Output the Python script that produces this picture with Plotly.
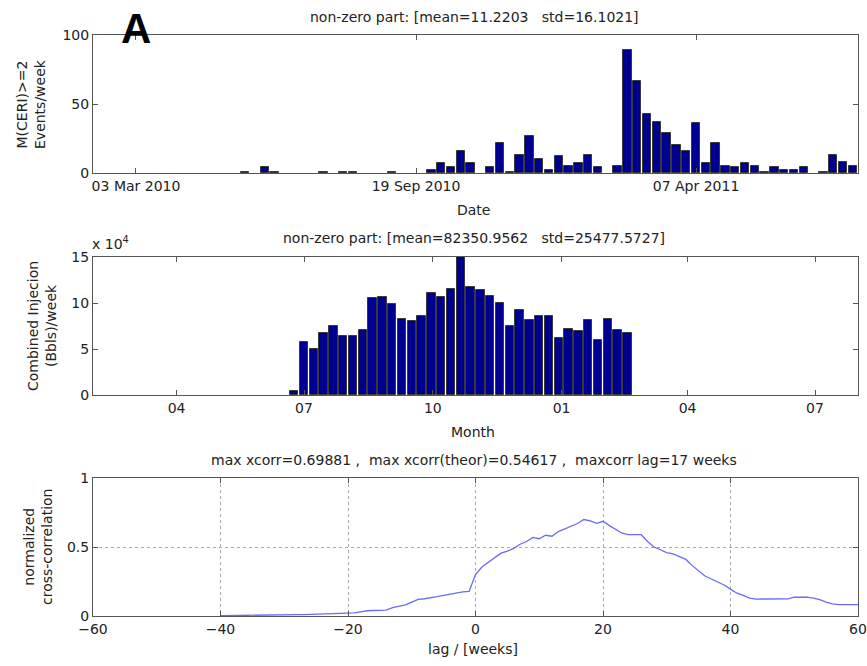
import plotly.graph_objects as go
import pandas as pd

W, H = 867, 666

# ---------------- data ----------------
week_start = "2010-02-04"          # centre of first weekly bin
n_weeks = 78

# M(CERI)>=2 events per week
events = [0, 0, 0, 0, 0, 0, 0, 0, 0, 0, 0, 0, 0, 0, 0,
          1, 0, 4, 1, 0, 0, 0, 0, 1, 0, 1, 1, 0, 0, 0, 1, 0, 0, 0,
          2, 7, 4, 16, 7, 0, 4, 22, 1, 13,
          27, 10, 2, 12, 5, 7, 13, 4, 0, 5,
          89, 67, 43, 37, 29, 20, 16, 36, 7, 22,
          5, 4, 7, 5, 1, 4, 2, 2, 4, 0,
          1, 13, 8, 5]

# combined injection, units of 1e4 Bbls per week
injection_1e4 = [0] * 20 + [
    0.47, 5.78, 4.95, 6.72, 7.52, 6.43, 6.36, 7.09, 10.52, 10.63,
    9.87, 8.31, 7.99, 8.61, 11.1, 10.7, 11.5, 15.0, 11.79, 11.46,
    10.81, 10.05, 7.52, 9.22, 8.17, 8.57, 8.64, 6.22, 7.19, 6.91,
    8.13, 5.93, 8.24, 7.02, 6.72] + [0] * 23

# normalized cross-correlation vs lag (weeks)
lags = list(range(-40, 61))
xcorr = [0.002, 0.003, 0.003, 0.004, 0.005, 0.008, 0.006, 0.005, 0.006, 0.008,
         0.009, 0.010, 0.010, 0.010, 0.011, 0.012, 0.012, 0.013, 0.014, 0.015,
         0.016, 0.022, 0.030, 0.038, 0.040, 0.041, 0.043, 0.060, 0.070, 0.080,
         0.100, 0.120, 0.125, 0.130, 0.140, 0.150, 0.158, 0.168, 0.175, 0.178,
         0.300, 0.355, 0.388, 0.420, 0.455, 0.470, 0.490, 0.520, 0.540, 0.570,
         0.560, 0.585, 0.578, 0.612, 0.630, 0.648, 0.670, 0.699, 0.690, 0.672,
         0.686, 0.655, 0.625, 0.600, 0.590, 0.588, 0.589, 0.540, 0.500, 0.480,
         0.460, 0.450, 0.430, 0.410, 0.365, 0.325, 0.290, 0.268, 0.247, 0.225,
         0.195, 0.165, 0.150, 0.130, 0.123, 0.123, 0.123, 0.123, 0.123, 0.124,
         0.136, 0.137, 0.137, 0.130, 0.118, 0.100, 0.088, 0.083, 0.083, 0.083,
         0.082]

top_ticks = ["2010-03-03", "2010-09-19", "2011-04-07"]
top_ticktext = ["03 Mar 2010", "19 Sep 2010", "07 Apr 2011"]
mid_ticks = ["2010-04-01", "2010-07-01", "2010-10-01", "2011-01-01", "2011-04-01", "2011-07-01"]
mid_ticktext = ["04", "07", "10", "01", "04", "07"]

SP = " \u00a0\u00a0"
title_top = "non-zero part: [mean=11.2203" + SP + "std=16.1021]"
title_mid = "non-zero part: [mean=82350.9562" + SP + "std=25477.5727]"
title_bot = "max xcorr=0.69881 ,\u00a0 max xcorr(theor)=0.54617 ,\u00a0 maxcorr lag=17 weeks"

# ---------------- figure ----------------
weeks = pd.date_range(week_start, periods=n_weeks, freq="7D")
bar_w = 7 * 86400000 * 0.84
FONT = "DejaVu Sans, Liberation Sans, Arial, sans-serif"
FS = 14
NAVY = "#000090"
EDGE = "#3a3a3a"

def nz(v):
    return [x if x else None for x in v]

fig = go.Figure()
fig.add_trace(go.Bar(x=weeks, y=nz(events), width=bar_w, marker_color=NAVY,
                     marker_line_color=EDGE, marker_line_width=1,
                     xaxis="x", yaxis="y", showlegend=False))
fig.add_trace(go.Bar(x=weeks, y=nz(injection_1e4), width=bar_w, marker_color=NAVY,
                     marker_line_color=EDGE, marker_line_width=1,
                     xaxis="x2", yaxis="y2", showlegend=False))
fig.add_trace(go.Scatter(x=lags, y=xcorr, mode="lines",
                         line=dict(color="rgb(105,105,255)", width=1.3),
                         xaxis="x3", yaxis="y3", showlegend=False))

def px_x(p):
    return p / W

def px_y(p):
    return 1 - p / H

L, R = 93, 858
panels = [(35, 173), (257, 395), (478, 616)]

common = dict(showline=True, linecolor="#555", linewidth=1, mirror="ticks",
              ticks="inside", ticklen=5, tickcolor="#555", zeroline=False,
              automargin=False,
              tickfont=dict(family=FONT, size=FS, color="#222"))

xr = ["2010-01-31 07:00", "2011-07-31 17:00"]
fig.update_layout(
    width=W, height=H, margin=dict(l=0, r=0, t=0, b=0),
    paper_bgcolor="white", plot_bgcolor="white", bargap=0,
    font=dict(family=FONT, size=FS, color="#222"),
    xaxis=dict(domain=[px_x(L), px_x(R)], type="date", range=xr, anchor="y",
               tickvals=top_ticks, ticktext=top_ticktext, showgrid=False, **common),
    yaxis=dict(domain=[px_y(panels[0][1]), px_y(panels[0][0])], range=[0, 100],
               tickvals=[0, 50, 100], anchor="x", showgrid=False, **common),
    xaxis2=dict(domain=[px_x(L), px_x(R)], type="date", range=xr, anchor="y2",
                tickvals=mid_ticks, ticktext=mid_ticktext, showgrid=False, **common),
    yaxis2=dict(domain=[px_y(panels[1][1]), px_y(panels[1][0])], range=[0, 15],
                tickvals=[0, 5, 10, 15], anchor="x2", showgrid=False, **common),
    xaxis3=dict(domain=[px_x(L), px_x(R)], range=[-60, 60], anchor="y3",
                tickvals=[-60, -40, -20, 0, 20, 40, 60], showgrid=True,
                gridcolor="#aaa", griddash="dot", gridwidth=1, **common),
    yaxis3=dict(domain=[px_y(panels[2][1]), px_y(panels[2][0])], range=[0, 1],
                tickvals=[0, 0.5, 1], ticktext=["0", "0.5", "1"], anchor="x3",
                showgrid=True, gridcolor="#aaa", griddash="dot", gridwidth=1, **common),
)

def ann(text, x, y, size=FS, angle=0, **kw):
    fig.add_annotation(text=text, x=px_x(x), y=px_y(y), xref="paper", yref="paper",
                       showarrow=False, textangle=angle, xanchor="center", yanchor="middle",
                       font=dict(family=FONT, size=size, color="#222"), **kw)

ann(title_top, 474, 17)
ann(title_mid, 474, 238)
ann(title_bot, 474, 460)
ann("Date", 473, 210)
ann("Month", 473, 432)
ann("lag / [weeks]", 473, 649)
ann("M(CERI)>=2<br>Events/week", 31, 104, angle=-90)
ann("Combined Injecion<br>(Bbls)/week", 42, 326, angle=-90)
ann("normalized<br>cross-correlation", 38, 547, angle=-90)
ann("x 10<sup>4</sup>", 111, 243)
fig.add_annotation(text="<b>A</b>", x=px_x(136), y=px_y(29), xref="paper", yref="paper",
                   showarrow=False, xanchor="center", yanchor="middle",
                   font=dict(family="Liberation Sans, Arial, sans-serif", size=42, color="black"))

# remove the default 8px body margin so the figure fills the window exactly
fig.write_html("out.html", config={"displayModeBar": False},
               post_script="document.body.style.margin='0';")
